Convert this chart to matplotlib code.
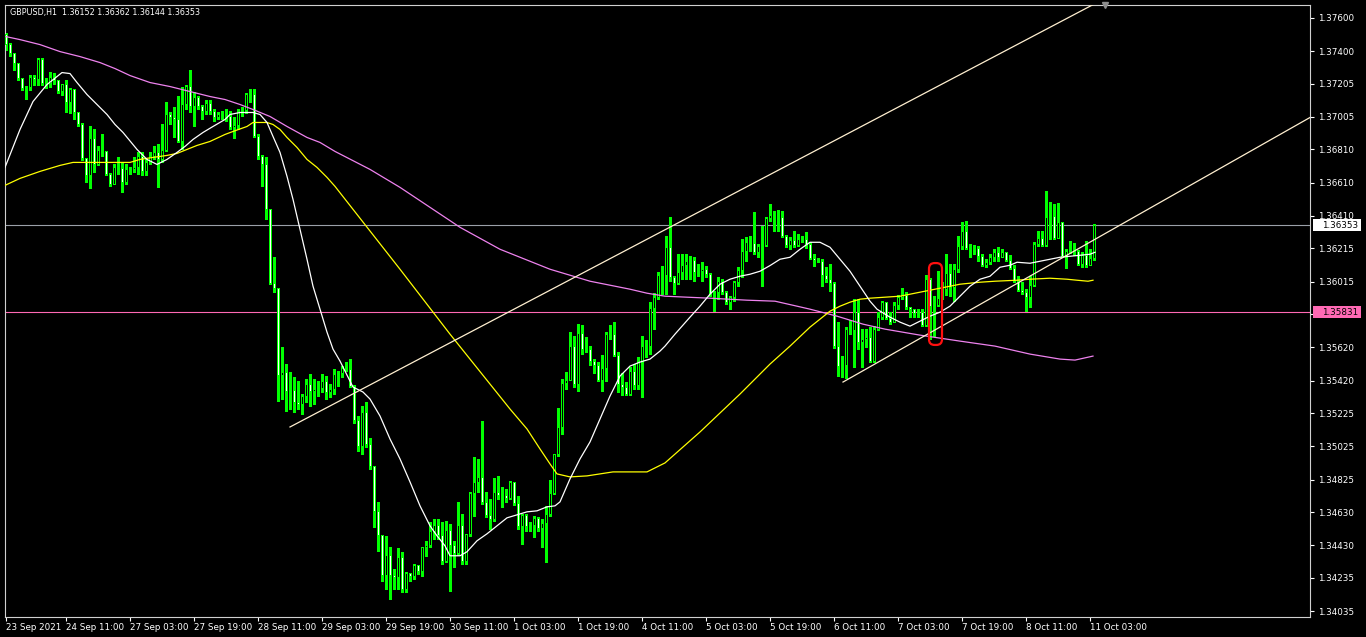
"""GBPUSD H1 chart, MT4 style (black background, lime candles)."""

import matplotlib
matplotlib.use("Agg")
import matplotlib.pyplot as plt
import numpy as np
from matplotlib.patches import FancyBboxPatch, Rectangle
from matplotlib.transforms import blended_transform_factory

plt.rcParams["font.family"] = "DejaVu Sans"

# ── Data ──────────────────────────────────────────────────────────────
symbol_title = "GBPUSD,H1  1.36152 1.36362 1.36144 1.36353"
first_open = 1.37500

closes = np.array([
    1.37440, 1.37386, 1.37326, 1.37236, 1.37176, 1.37182, 1.37242, 1.37230, 1.37350, 1.37206,
    1.37206, 1.37242, 1.37224, 1.37158, 1.37200, 1.37092, 1.37170, 1.37032, 1.36960, 1.36756,
    1.36654, 1.36876, 1.36720, 1.36804, 1.36798, 1.36660, 1.36600, 1.36702, 1.36696, 1.36612,
    1.36690, 1.36690, 1.36702, 1.36768, 1.36678, 1.36732, 1.36768, 1.36792, 1.36750, 1.36804,
    1.37020, 1.37002, 1.36990, 1.36858, 1.37080, 1.37188, 1.37068, 1.37122, 1.37068, 1.37038,
    1.37086, 1.37038, 1.37002, 1.37020, 1.37014, 1.37008, 1.36942, 1.36954, 1.37038, 1.37044,
    1.37140, 1.37140, 1.36888, 1.36768, 1.36720, 1.36450, 1.36006, 1.35976, 1.35454, 1.35472,
    1.35358, 1.35364, 1.35292, 1.35280, 1.35328, 1.35400, 1.35358, 1.35370, 1.35376, 1.35418,
    1.35352, 1.35370, 1.35460, 1.35466, 1.35496, 1.35490, 1.35388, 1.35178, 1.35022, 1.35232,
    1.35034, 1.34902, 1.34632, 1.34488, 1.34248, 1.34368, 1.34248, 1.34236, 1.34356, 1.34164,
    1.34260, 1.34242, 1.34308, 1.34272, 1.34416, 1.34428, 1.34512, 1.34548, 1.34488, 1.34332,
    1.34518, 1.34428, 1.34380, 1.34548, 1.34332, 1.34494, 1.34740, 1.34806, 1.34836, 1.34686,
    1.34608, 1.34584, 1.34746, 1.34728, 1.34728, 1.34710, 1.34806, 1.34680, 1.34542, 1.34608,
    1.34542, 1.34548, 1.34590, 1.34530, 1.34560, 1.34614, 1.34740, 1.34974, 1.35136, 1.35406,
    1.35424, 1.35628, 1.35400, 1.35706, 1.35610, 1.35610, 1.35538, 1.35514, 1.35424, 1.35496,
    1.35700, 1.35700, 1.35574, 1.35400, 1.35382, 1.35340, 1.35478, 1.35394, 1.35538, 1.35628,
    1.35628, 1.35856, 1.35922, 1.36054, 1.36054, 1.36222, 1.36042, 1.36006, 1.36072, 1.36114,
    1.36138, 1.36144, 1.36072, 1.36078, 1.36090, 1.36060, 1.35946, 1.35952, 1.36018, 1.35952,
    1.35892, 1.35922, 1.36012, 1.36084, 1.36198, 1.36252, 1.36246, 1.36192, 1.36228, 1.36234,
    1.36396, 1.36414, 1.36408, 1.36402, 1.36288, 1.36234, 1.36264, 1.36234, 1.36270, 1.36270,
    1.36240, 1.36156, 1.36144, 1.36138, 1.36054, 1.36030, 1.36006, 1.35628, 1.35508, 1.35514,
    1.35730, 1.35724, 1.35832, 1.35652, 1.35670, 1.35682, 1.35538, 1.35730, 1.35802, 1.35892,
    1.35796, 1.35772, 1.35874, 1.35922, 1.35934, 1.35862, 1.35850, 1.35826, 1.35832, 1.35754,
    1.36030, 1.35868, 1.35874, 1.35916, 1.35970, 1.36066, 1.35982, 1.36090, 1.36228, 1.36318,
    1.36216, 1.36222, 1.36216, 1.36168, 1.36114, 1.36132, 1.36162, 1.36192, 1.36162, 1.36192,
    1.36144, 1.36096, 1.36018, 1.35964, 1.35952, 1.35922, 1.35994, 1.36240, 1.36276, 1.36234,
    1.36402, 1.36408, 1.36276, 1.36372, 1.36168, 1.36198, 1.36204, 1.36198, 1.36120, 1.36174,
    1.36114, 1.36152, 1.36353,
])

highs = np.array([
    1.37512, 1.37452, 1.37392, 1.37326, 1.37242, 1.37194, 1.37260, 1.37260, 1.37362, 1.37362,
    1.37242, 1.37278, 1.37272, 1.37230, 1.37206, 1.37230, 1.37182, 1.37170, 1.37032, 1.36966,
    1.36756, 1.36948, 1.36930, 1.36828, 1.36900, 1.36792, 1.36666, 1.36720, 1.36762, 1.36732,
    1.36720, 1.36702, 1.36762, 1.36792, 1.36792, 1.36750, 1.36792, 1.36828, 1.36840, 1.36960,
    1.37098, 1.37032, 1.37062, 1.37134, 1.37188, 1.37200, 1.37290, 1.37158, 1.37134, 1.37080,
    1.37110, 1.37110, 1.37050, 1.37032, 1.37038, 1.37050, 1.37038, 1.37002, 1.37050, 1.37068,
    1.37152, 1.37176, 1.37176, 1.36900, 1.36774, 1.36762, 1.36450, 1.36162, 1.35976, 1.35622,
    1.35520, 1.35472, 1.35442, 1.35418, 1.35340, 1.35430, 1.35460, 1.35430, 1.35418, 1.35460,
    1.35448, 1.35400, 1.35490, 1.35478, 1.35508, 1.35532, 1.35550, 1.35394, 1.35208, 1.35268,
    1.35292, 1.35076, 1.34908, 1.34692, 1.34470, 1.34488, 1.34422, 1.34290, 1.34416, 1.34392,
    1.34272, 1.34254, 1.34320, 1.34314, 1.34422, 1.34458, 1.34572, 1.34590, 1.34590, 1.34572,
    1.34578, 1.34560, 1.34458, 1.34692, 1.34620, 1.34500, 1.34752, 1.34962, 1.34950, 1.35178,
    1.34752, 1.34710, 1.34836, 1.34848, 1.34782, 1.34770, 1.34818, 1.34806, 1.34728, 1.34620,
    1.34620, 1.34572, 1.34608, 1.34602, 1.34590, 1.34668, 1.34824, 1.34980, 1.35256, 1.35430,
    1.35472, 1.35712, 1.35688, 1.35760, 1.35754, 1.35682, 1.35628, 1.35550, 1.35532, 1.35574,
    1.35712, 1.35754, 1.35772, 1.35592, 1.35466, 1.35412, 1.35502, 1.35520, 1.35562, 1.35688,
    1.35664, 1.35892, 1.35946, 1.36072, 1.36108, 1.36288, 1.36402, 1.36048, 1.36180, 1.36180,
    1.36180, 1.36168, 1.36162, 1.36120, 1.36132, 1.36108, 1.36066, 1.35958, 1.36042, 1.36030,
    1.35958, 1.35928, 1.36018, 1.36102, 1.36270, 1.36282, 1.36288, 1.36432, 1.36240, 1.36348,
    1.36402, 1.36480, 1.36438, 1.36444, 1.36438, 1.36294, 1.36282, 1.36318, 1.36300, 1.36288,
    1.36312, 1.36252, 1.36180, 1.36156, 1.36150, 1.36102, 1.36120, 1.36012, 1.35772, 1.35568,
    1.35742, 1.35784, 1.35910, 1.35910, 1.35730, 1.35730, 1.35742, 1.35748, 1.35832, 1.35898,
    1.35892, 1.35832, 1.35892, 1.35934, 1.35976, 1.35952, 1.35862, 1.35850, 1.35850, 1.35850,
    1.36054, 1.36036, 1.35928, 1.36078, 1.36012, 1.36180, 1.36120, 1.36120, 1.36288, 1.36372,
    1.36378, 1.36240, 1.36234, 1.36228, 1.36180, 1.36150, 1.36180, 1.36210, 1.36222, 1.36210,
    1.36180, 1.36174, 1.36114, 1.36048, 1.36012, 1.35970, 1.36048, 1.36252, 1.36318, 1.36318,
    1.36558, 1.36492, 1.36480, 1.36486, 1.36294, 1.36210, 1.36258, 1.36246, 1.36204, 1.36192,
    1.36258, 1.36210, 1.36362,
])

lows = np.array([
    1.37410, 1.37374, 1.37290, 1.37230, 1.37170, 1.37116, 1.37170, 1.37200, 1.37200, 1.37200,
    1.37182, 1.37188, 1.37206, 1.37152, 1.37140, 1.37032, 1.37026, 1.36990, 1.36948, 1.36744,
    1.36612, 1.36576, 1.36672, 1.36714, 1.36768, 1.36654, 1.36588, 1.36600, 1.36660, 1.36552,
    1.36600, 1.36660, 1.36672, 1.36660, 1.36654, 1.36654, 1.36720, 1.36750, 1.36582, 1.36732,
    1.36798, 1.36960, 1.36882, 1.36852, 1.36810, 1.37050, 1.37032, 1.36948, 1.37050, 1.36990,
    1.37020, 1.37020, 1.36978, 1.36990, 1.36990, 1.36978, 1.36930, 1.36876, 1.36930, 1.37008,
    1.37026, 1.37098, 1.36882, 1.36750, 1.36588, 1.36390, 1.36000, 1.35952, 1.35298, 1.35310,
    1.35238, 1.35250, 1.35232, 1.35250, 1.35220, 1.35292, 1.35268, 1.35280, 1.35328, 1.35352,
    1.35310, 1.35322, 1.35340, 1.35388, 1.35442, 1.35478, 1.35382, 1.35166, 1.34998, 1.34980,
    1.35022, 1.34890, 1.34542, 1.34398, 1.34218, 1.34170, 1.34110, 1.34170, 1.34170, 1.34152,
    1.34152, 1.34218, 1.34230, 1.34260, 1.34248, 1.34368, 1.34422, 1.34470, 1.34470, 1.34320,
    1.34338, 1.34158, 1.34302, 1.34374, 1.34320, 1.34320, 1.34488, 1.34608, 1.34752, 1.34680,
    1.34602, 1.34530, 1.34578, 1.34710, 1.34662, 1.34692, 1.34710, 1.34674, 1.34530, 1.34440,
    1.34518, 1.34518, 1.34482, 1.34518, 1.34422, 1.34332, 1.34608, 1.34740, 1.34968, 1.35100,
    1.35370, 1.35424, 1.35382, 1.35358, 1.35580, 1.35592, 1.35514, 1.35466, 1.35418, 1.35358,
    1.35418, 1.35670, 1.35568, 1.35352, 1.35334, 1.35334, 1.35334, 1.35370, 1.35370, 1.35322,
    1.35562, 1.35580, 1.35730, 1.35910, 1.35940, 1.35940, 1.36018, 1.35940, 1.36000, 1.36030,
    1.36030, 1.36030, 1.36018, 1.36048, 1.36018, 1.36042, 1.35928, 1.35838, 1.35910, 1.35940,
    1.35880, 1.35850, 1.35898, 1.35988, 1.36042, 1.36138, 1.36198, 1.36180, 1.36162, 1.35988,
    1.36228, 1.36378, 1.36318, 1.36318, 1.36282, 1.36222, 1.36210, 1.36222, 1.36228, 1.36252,
    1.36216, 1.36150, 1.36108, 1.36132, 1.35988, 1.36012, 1.35958, 1.35616, 1.35448, 1.35442,
    1.35436, 1.35700, 1.35502, 1.35610, 1.35502, 1.35622, 1.35532, 1.35532, 1.35724, 1.35790,
    1.35790, 1.35760, 1.35808, 1.35850, 1.35910, 1.35850, 1.35802, 1.35802, 1.35802, 1.35748,
    1.35748, 1.35670, 1.35688, 1.35868, 1.35910, 1.35934, 1.35928, 1.35898, 1.36072, 1.36210,
    1.36210, 1.36162, 1.36180, 1.36138, 1.36108, 1.36102, 1.36120, 1.36138, 1.36138, 1.36162,
    1.36138, 1.36090, 1.36012, 1.35958, 1.35940, 1.35838, 1.35862, 1.35988, 1.36228, 1.36228,
    1.36228, 1.36270, 1.36270, 1.36282, 1.36162, 1.36096, 1.36186, 1.36174, 1.36114, 1.36102,
    1.36102, 1.36138, 1.36144,
])

# moving averages at (bar index, price)
ma_fast_x = [-0.25, 3.5, 6.75, 10.25, 14, 16, 17.75, 20.25, 22.75, 25.25, 27.25, 29.25,
             32.75, 35.25, 37.75, 40.25, 42.75, 44.75, 46.75, 49.25, 51.75, 54.75, 56,
             58.5, 61.75, 63.5, 65.25, 66.75, 68.5, 70.25, 71.75, 73.5, 75.25, 76.75,
             78.5, 80.25, 81.75, 83.5, 86.75, 89.25, 91, 93.5, 96, 98.5, 101, 103.5, 106,
             107.75, 109.75, 111, 113.5, 115.25, 117.75, 120.25, 122.75, 125.25, 127.75,
             130.25, 132.75, 135.25, 137.25, 138.5, 141, 143.5, 146, 148.5, 151, 153.5,
             156, 158.5, 161, 163.5, 164.75, 167.25, 171, 173.5, 176, 178.5, 181, 183.5,
             186, 188.5, 191, 193.5, 196, 198.5, 201, 203.5, 206, 208.5, 211, 213.5, 216,
             217.75, 219.75, 221, 223.5, 226, 228.5, 231, 233.5, 236, 238.5, 241, 243.5,
             246, 248.5, 251, 252.75, 256, 258.5, 261, 263.5, 266, 268.5, 271, 272.25]
ma_fast_y = [1.36702, 1.36930, 1.37098, 1.37200, 1.37272, 1.37266, 1.37212, 1.37140, 1.37080,
             1.37020, 1.36960, 1.36912, 1.36810, 1.36750, 1.36720, 1.36750, 1.36792, 1.36828,
             1.36870, 1.36912, 1.36948, 1.36990, 1.37020, 1.37032, 1.37032, 1.37020, 1.36972,
             1.36888, 1.36792, 1.36648, 1.36510, 1.36330, 1.36150, 1.35988, 1.35850, 1.35712,
             1.35610, 1.35538, 1.35382, 1.35352, 1.35310, 1.35208, 1.35070, 1.34950, 1.34812,
             1.34668, 1.34548, 1.34488, 1.34428, 1.34368, 1.34368, 1.34392, 1.34458, 1.34500,
             1.34548, 1.34596, 1.34614, 1.34632, 1.34638, 1.34662, 1.34668, 1.34692, 1.34830,
             1.34950, 1.35052, 1.35190, 1.35328, 1.35448, 1.35508, 1.35532, 1.35550, 1.35598,
             1.35628, 1.35700, 1.35802, 1.35868, 1.35940, 1.36000, 1.36030, 1.36048, 1.36060,
             1.36078, 1.36112, 1.36150, 1.36162, 1.36210, 1.36252, 1.36252, 1.36222, 1.36150,
             1.36078, 1.35988, 1.35898, 1.35850, 1.35820, 1.35802, 1.35772, 1.35748, 1.35778,
             1.35808, 1.35832, 1.35868, 1.35928, 1.35988, 1.36030, 1.36048, 1.36102, 1.36114,
             1.36132, 1.36126, 1.36138, 1.36150, 1.36162, 1.36168, 1.36174, 1.36180, 1.36192]

ma_mid_x = [-0.25, 3.5, 8.5, 13.5, 16.75, 27.25, 31, 33.5, 36.75, 40.25, 42.75, 45.25, 47.75,
            51, 54.75, 56.75, 60.25, 61.75, 65.25, 66.75, 68.5, 70.25, 72.75, 75.25, 77.75,
            80.25, 82.25, 98.5, 111, 126, 130.25, 133.5, 136, 137.75, 141, 145.25, 148.5,
            151.75, 160.25, 162.75, 164.75, 173.5, 183.5, 191, 196, 201, 206, 208.5, 211,
            213.5, 216, 219.75, 223.5, 228.5, 233.5, 238.5, 243.5, 247.25, 252.75, 256, 261,
            265.25, 267.75, 270.5, 271.75]
ma_mid_y = [1.36594, 1.36636, 1.36678, 1.36714, 1.36732, 1.36732, 1.36732, 1.36750, 1.36762,
            1.36774, 1.36786, 1.36810, 1.36834, 1.36858, 1.36900, 1.36918, 1.36948, 1.36972,
            1.36972, 1.36960, 1.36930, 1.36882, 1.36822, 1.36750, 1.36702, 1.36642, 1.36588,
            1.36090, 1.35700, 1.35250, 1.35130, 1.35010, 1.34920, 1.34860, 1.34842, 1.34848,
            1.34860, 1.34872, 1.34872, 1.34902, 1.34926, 1.35112, 1.35340, 1.35520, 1.35628,
            1.35742, 1.35838, 1.35868, 1.35892, 1.35910, 1.35916, 1.35922, 1.35928, 1.35952,
            1.35976, 1.36000, 1.36012, 1.36018, 1.36024, 1.36030, 1.36036, 1.36030, 1.36024,
            1.36018, 1.36024]

ma_slow_x = [0, 3.5, 8.5, 13.5, 18.5, 23.5, 27.25, 31, 36, 41, 46, 51, 54.75, 58.5, 61.75, 66,
             70.25, 75.25, 78.5, 82.25, 91, 98.5, 106, 113.5, 123.5, 136, 141, 146, 151, 156,
             160.25, 164.75, 170.25, 176, 185.25, 192.25, 197.75, 201, 207.75, 214.25, 219.75,
             228.5, 238.5, 247.25, 256, 263.5, 267.25, 271.75]
ma_slow_y = [1.37488, 1.37470, 1.37440, 1.37398, 1.37368, 1.37332, 1.37296, 1.37254, 1.37212,
             1.37188, 1.37158, 1.37128, 1.37110, 1.37080, 1.37050, 1.37008, 1.36948, 1.36882,
             1.36852, 1.36798, 1.36690, 1.36582, 1.36462, 1.36342, 1.36210, 1.36090, 1.36054,
             1.36018, 1.35994, 1.35970, 1.35946, 1.35928, 1.35922, 1.35916, 1.35904, 1.35898,
             1.35868, 1.35850, 1.35808, 1.35760, 1.35730, 1.35694, 1.35658, 1.35628, 1.35580,
             1.35550, 1.35544, 1.35568]

# drawn objects: trend lines (bar, price) -> (bar, price), horizontal level, marked box
trend_upper = [(71.0, 1.35142), (271.75, 1.37680)]
trend_lower = [(209.25, 1.35412), (326.0, 1.37002)]
level_line = 1.35831
box_bars = (230.75, 234.0)
box_prices = (1.35635, 1.36127)

price_ticks = [1.37600, 1.37400, 1.37205, 1.37005, 1.36810, 1.36610, 1.36410, 1.36215,
               1.36015, 1.35820, 1.35620, 1.35420, 1.35225, 1.35025, 1.34825, 1.34630,
               1.34430, 1.34235, 1.34035]
hidden_tick = 1.35820  # sits under the level tag on the axis
time_labels = ["23 Sep 2021", "24 Sep 11:00", "27 Sep 03:00", "27 Sep 19:00", "28 Sep 11:00",
               "29 Sep 03:00", "29 Sep 19:00", "30 Sep 11:00", "1 Oct 03:00", "1 Oct 19:00",
               "4 Oct 11:00", "5 Oct 03:00", "5 Oct 19:00", "6 Oct 11:00", "7 Oct 03:00",
               "7 Oct 19:00", "8 Oct 11:00", "11 Oct 03:00"]
time_label_bars = [0] + [15 + 16 * k for k in range(17)]

# ── Colours ───────────────────────────────────────────────────────────
LIME = "#00FF00"
FG = "#FFFFFF"
BID_GRAY = "#9AA0A8"
PINK = "#FF69B4"
CREAM = "#FFEFD0"

# ── Figure ────────────────────────────────────────────────────────────
W, H = 1366, 637
fig = plt.figure(figsize=(W / 100, H / 100), dpi=100, facecolor="black")
ax = fig.add_axes([5 / W, 20 / H, 1305 / W, 612 / H], facecolor="black")
ax.set_xlim(-0.25, 326)
ax.set_ylim(1.34000, 1.37678)
px = (1.37678 - 1.34000) / 612  # one screen pixel in price units

n = len(closes)
idx = np.arange(n)
opens = np.r_[first_open, closes[:-1]]
top = np.maximum(highs, np.maximum(opens, closes))
bot = np.minimum(lows, np.minimum(opens, closes))
body_lo = np.minimum(opens, closes)
body_h = np.maximum(np.abs(closes - opens), px)
bull = closes >= opens

ax.axhline(closes[-1], color=BID_GRAY, lw=0.8, zorder=1)
ax.axhline(level_line, color=PINK, lw=0.8, zorder=1)

# candles: lime wick + lime body frame, inner fill black (up) / white (down)
ax.vlines(idx, bot, top, color=LIME, lw=0.75, zorder=2, antialiased=False)
ax.bar(idx, body_h + px, width=0.75, bottom=body_lo - px / 2, color=LIME,
       linewidth=0, zorder=3, antialiased=False)
inner_h = body_h - px
has_inner = inner_h > 0
ax.bar(idx[has_inner], inner_h[has_inner], width=0.25,
       bottom=body_lo[has_inner] + px / 2,
       color=np.where(bull, "black", "white")[has_inner], linewidth=0,
       zorder=3.5, antialiased=False)

ax.plot(ma_slow_x, ma_slow_y, color="#EE82EE", lw=0.9, zorder=4)
ax.plot(ma_mid_x, ma_mid_y, color="#FFFF00", lw=0.9, zorder=4)
ax.plot(ma_fast_x, ma_fast_y, color=FG, lw=0.9, zorder=4)

for (x0, y0), (x1, y1) in (trend_upper, trend_lower):
    ax.plot([x0, x1], [y0, y1], color=CREAM, lw=0.9, zorder=4)

# red marker box round the 7 Oct breakout candles
ax.add_patch(FancyBboxPatch((box_bars[0], box_prices[0]), box_bars[1] - box_bars[0],
                            box_prices[1] - box_prices[0],
                            boxstyle="round,pad=0,rounding_size=1.4",
                            mutation_aspect=0.00024, fc="none", ec="#FF1010",
                            lw=1.6, zorder=5))

# chart shift marker
ax.plot([274.75], [1.37678], marker="v", ms=5, color="#8C8C8C", clip_on=False, zorder=6)

# axes styling
for spine in ax.spines.values():
    spine.set_color("#D0D0D0")
    spine.set_linewidth(0.8)

ax.yaxis.tick_right()
ax.set_yticks(price_ticks)
ax.set_yticklabels(["" if p == hidden_tick else f"{p:.5f}" for p in price_ticks])
ax.tick_params(axis="y", colors=FG, labelsize=6.3, length=3, width=0.8, pad=3)

ax.set_xticks(time_label_bars)
ax.set_xticklabels(time_labels)
ax.tick_params(axis="x", colors=FG, labelsize=6.3, length=3, width=0.8, pad=1)
for lab in ax.get_xticklabels():
    lab.set_ha("left")

ax.text(0.004, 0.988, symbol_title, transform=ax.transAxes, color=FG,
        fontsize=5.8, va="center", ha="left")

# price tags on the axis
tag_tr = blended_transform_factory(fig.transFigure, ax.transData)
tag_h = 12 * px
for price, bg in ((closes[-1], "white"), (level_line, PINK)):
    ax.add_patch(Rectangle((1313 / W, price - tag_h / 2), 48 / W, tag_h, transform=tag_tr,
                           fc=bg, ec="none", clip_on=False, zorder=10))
    ax.text(1322 / W, price, f"{price:.5f}", transform=tag_tr, color="black",
            fontsize=6.3, va="center", ha="left", clip_on=False, zorder=11)

fig.savefig("out.png", dpi=100, facecolor="black")
